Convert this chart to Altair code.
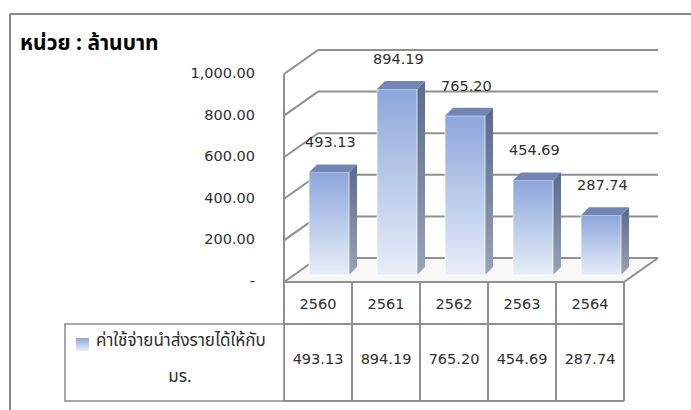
import altair as alt
import pandas as pd

# ---------------- data ----------------
years = ["2560", "2561", "2562", "2563", "2564"]
values = [493.13, 894.19, 765.20, 454.69, 287.74]
value_labels = ["493.13", "894.19", "765.20", "454.69", "287.74"]
ticks = [0, 200, 400, 600, 800, 1000]
tick_labels = ["-", "200.00", "400.00", "600.00", "800.00", "1,000.00"]
unit_title = "หน่วย : ล้านบาท"
series_name_lines = ["ค่าใช้จ่ายนำส่งรายได้ให้กับ", "มร."]

# ---------------- geometry (pixels) ----------------
W, H = 691, 410
X0, CW = 284, 68          # left of first category column, column width
Y0, PPU = 282, 0.208      # front floor line, pixels per value unit
DEP_X, DEP_Y = 34, 24     # depth of the 3D box
BAR_L, BAR_R = 25, 65     # bar front face inside a column
BAR_BASE = 7              # bar bottom above front floor line
BDX, BDY = 8, 8           # bar depth
HDR_TOP, ROW_TOP, TBL_BOT = 282, 324, 401
LEG_LEFT = 65

def cx(px):
    return (px - X0) / CW

def vy(px):
    return px / PPU

xs = alt.Scale(domain=[cx(0), cx(W)], nice=False, zero=False)
ys = alt.Scale(domain=[(Y0 - H) / PPU, Y0 / PPU], nice=False, zero=False)

def X(f):
    return alt.X(f, type="quantitative", scale=xs, axis=None)

def Y(f):
    return alt.Y(f, type="quantitative", scale=ys, axis=None)

GRID = "#8f8f8f"
FONT = "DejaVu Sans"
THAI_FONT = "Noto Sans Thai, Tahoma, Noto Sans, DejaVu Sans, sans-serif"
TXT = "#2e2e2e"
NUM_SIZE = 14.5

dx_back = cx(X0 + DEP_X)
dy_back = vy(DEP_Y)
n = len(years)

# ---------------- walls / grid ----------------
grid_rows = []
for t in ticks:
    grid_rows.append(dict(x=dx_back, x2=n + dx_back, y=t + dy_back, y2=t + dy_back))   # back wall
    grid_rows.append(dict(x=0, x2=dx_back, y=t, y2=t + dy_back))                         # left wall
grid_rows.append(dict(x=0, x2=0, y=0, y2=ticks[-1]))                                      # front axis
grid_rows.append(dict(x=n, x2=n + dx_back, y=0, y2=dy_back))                              # floor right edge
grid_rows.append(dict(x=0, x2=n, y=0, y2=0))                                              # floor front edge
grid = alt.Chart(pd.DataFrame(grid_rows)).mark_rule(color=GRID, strokeWidth=2).encode(
    x=X("x"), x2="x2", y=Y("y"), y2="y2")

floor_df = pd.DataFrame([
    dict(x=0, y=0, y2=0),
    dict(x=dx_back, y=0, y2=dy_back),
    dict(x=n, y=0, y2=dy_back),
    dict(x=n + dx_back, y=dy_back, y2=dy_back),
])
floor = alt.Chart(floor_df).mark_area(color="#f8f8f8").encode(x=X("x"), y=Y("y"), y2="y2")

# y tick labels
tick_df = pd.DataFrame(dict(t=ticks, lab=tick_labels))
tick_text = alt.Chart(tick_df).mark_text(align="right", baseline="middle", font=FONT,
                                          fontSize=NUM_SIZE, color=TXT).encode(
    x=alt.value(255), y=Y("t"), text="lab:N")

# ---------------- bars ----------------
base_u = vy(BAR_BASE)
bdx = BDX / CW
bdy = vy(BDY)
front_rows, side_rows, top_rows, lab_rows = [], [], [], []
for i, (yr, v, lab) in enumerate(zip(years, values, value_labels)):
    L = i + BAR_L / CW
    R = i + BAR_R / CW
    top = base_u + v
    front_rows.append(dict(year=yr, x=L, x2=R, y=base_u, y2=top))
    side_rows += [dict(year=yr, x=R, y=base_u, y2=top),
                  dict(year=yr, x=R + bdx, y=base_u + bdy, y2=top + bdy)]
    top_rows += [dict(year=yr, x=L, y=top, y2=top),
                 dict(year=yr, x=L + bdx, y=top, y2=top + bdy),
                 dict(year=yr, x=R, y=top, y2=top + bdy),
                 dict(year=yr, x=R + bdx, y=top + bdy, y2=top + bdy)]
    lab_rows.append(dict(year=yr, x=(L + R) / 2 + 0.02, y=top, lab=lab))

front_grad = alt.Gradient(gradient="linear", x1=0, x2=0, y1=0, y2=1,
                          stops=[alt.GradientStop(color="#8ca7db", offset=0),
                                 alt.GradientStop(color="#e8eef8", offset=1)])
side_grad = alt.Gradient(gradient="linear", x1=0, x2=0, y1=0, y2=1,
                         stops=[alt.GradientStop(color="#5a6a90", offset=0),
                                alt.GradientStop(color="#9aa3b5", offset=1)])

front = alt.Chart(pd.DataFrame(front_rows)).mark_rect(
    color=front_grad, stroke="#ffffff", strokeWidth=1, strokeOpacity=0.7).encode(
    x=X("x"), x2="x2", y=Y("y"), y2="y2")
side = alt.Chart(pd.DataFrame(side_rows)).mark_area(color=side_grad).encode(
    x=X("x"), y=Y("y"), y2="y2", detail="year:N")
topf = alt.Chart(pd.DataFrame(top_rows)).mark_area(color="#7186b4").encode(
    x=X("x"), y=Y("y"), y2="y2", detail="year:N")
bar_labels = alt.Chart(pd.DataFrame(lab_rows)).mark_text(
    baseline="middle", font=FONT, fontSize=NUM_SIZE, color=TXT, dy=-29).encode(
    x=X("x"), y=Y("y"), text="lab:N")

# ---------------- data table ----------------
hl = pd.DataFrame([dict(x=0, x2=n, yp=ROW_TOP), dict(x=0, x2=n, yp=TBL_BOT)])
table_h = alt.Chart(hl).mark_rule(color=GRID, strokeWidth=2).encode(
    x=X("x"), x2="x2", y=alt.Y("yp:Q", scale=None))
vl = pd.DataFrame(dict(x=list(range(n + 1))))
table_v = alt.Chart(vl).mark_rule(color=GRID, strokeWidth=2).encode(
    x=X("x"), y=alt.value(HDR_TOP), y2=alt.value(TBL_BOT))

legend_box = alt.Chart(pd.DataFrame([dict(k=1)])).mark_rect(
    fill="#ffffff", stroke="#8a8a8a", strokeWidth=1.5).encode(
    x=alt.value(LEG_LEFT), x2=alt.value(X0), y=alt.value(ROW_TOP), y2=alt.value(TBL_BOT))
legend_sw = alt.Chart(pd.DataFrame([dict(k=1)])).mark_rect(color=front_grad).encode(
    x=alt.value(76), x2=alt.value(89), y=alt.value(338), y2=alt.value(351))
leg_df = pd.DataFrame(dict(lab=series_name_lines, xp=[96, 180], yp=[341, 377]))
legend_t1 = alt.Chart(leg_df.iloc[[0]]).mark_text(
    align="left", baseline="middle", font=THAI_FONT, fontSize=17, color=TXT).encode(
    x=alt.X("xp:Q", scale=None), y=alt.Y("yp:Q", scale=None), text="lab:N")
legend_t2 = alt.Chart(leg_df.iloc[[1]]).mark_text(
    align="center", baseline="middle", font=THAI_FONT, fontSize=17, color=TXT).encode(
    x=alt.X("xp:Q", scale=None), y=alt.Y("yp:Q", scale=None), text="lab:N")

tbl_df = pd.DataFrame(dict(x=[i + 0.5 for i in range(n)], year=years, lab=value_labels))
year_text = alt.Chart(tbl_df).mark_text(
    baseline="middle", font=FONT, fontSize=NUM_SIZE, color=TXT).encode(
    x=X("x"), y=alt.value(305), text="year:N")
val_text = alt.Chart(tbl_df).mark_text(
    baseline="middle", font=FONT, fontSize=NUM_SIZE, color=TXT).encode(
    x=X("x"), y=alt.value(360), text="lab:N")

# ---------------- frame & title ----------------
frame = alt.Chart(pd.DataFrame([dict(k=1)])).mark_rule(color="#8a8a8a", strokeWidth=2).encode(
    x=alt.value(10), x2=alt.value(W), y=alt.value(14), y2=alt.value(14))
frame_l = alt.Chart(pd.DataFrame([dict(k=1)])).mark_rule(color="#8a8a8a", strokeWidth=2).encode(
    x=alt.value(10), x2=alt.value(10), y=alt.value(14), y2=alt.value(H))
title = alt.Chart(pd.DataFrame([dict(t=unit_title)])).mark_text(
    align="left", baseline="middle", font=THAI_FONT, fontSize=21, fontWeight="bold",
    color="#000000").encode(x=alt.value(20), y=alt.value(44), text="t:N")

chart = alt.layer(
    frame, frame_l, title, floor, grid, tick_text,
    side, front, topf, bar_labels,
    table_h, table_v, legend_box, legend_sw, legend_t1, legend_t2, year_text, val_text,
).properties(
    width=W, height=H, padding=0, autosize=alt.AutoSizeParams(type="none"),
    background="#ffffff"
).configure_view(stroke=None)

chart.save("out.html", embed_options={"renderer": "svg", "actions": False})
